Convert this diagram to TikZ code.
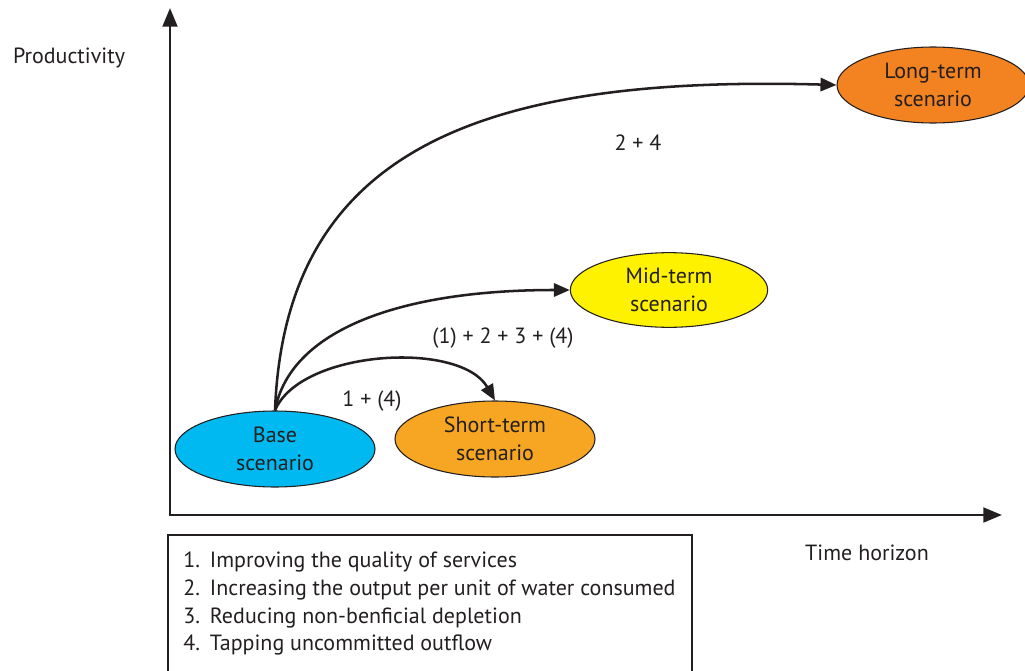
\documentclass[tikz,border=0pt]{standalone}
\usepackage{fontspec}
\setmainfont{PT Sans}
\usetikzlibrary{shapes.geometric,arrows.meta}
\definecolor{basecol}{RGB}{0,185,240}
\definecolor{shortcol}{RGB}{246,166,35}
\definecolor{midcol}{RGB}{255,242,0}
\definecolor{longcol}{RGB}{243,130,33}
\definecolor{ink}{RGB}{35,31,32}
\tikzset{
  scen/.style={ellipse, draw=ink, line width=0.8pt, inner sep=0pt,
    minimum width=150pt, minimum height=57pt, align=center,
    font=\fontsize{16.5}{21}\selectfont, text=ink},
  axis/.style={line width=2.2pt, draw=ink, -{Triangle[length=14pt,width=11pt]}},
  flow/.style={line width=1.9pt, draw=ink, -{Triangle[length=12pt,width=10pt]}},
  lbl/.style={font=\fontsize{16.5}{21}\selectfont, text=ink, inner sep=0pt},
  legline/.style={font=\fontsize{16.5}{21}\selectfont, text=ink, anchor=west, inner sep=0pt}
}
\newcommand{\legnum}[1]{\makebox[20pt][l]{#1}}
\begin{document}
\begin{tikzpicture}[x=0.75pt,y=-0.75pt]
\useasboundingbox (0,0) rectangle (1025,671);
\begin{scope}
\clip (0,0) rectangle (1025,671);

% axes
\coordinate (origin) at (170,515);
\coordinate (ytop) at (170,8);
\coordinate (xend) at (1002,515);
\draw[axis] (origin) -- (ytop);
\draw[axis] ([xshift=-1.1pt]origin) -- (xend);
\node[lbl] (ylab) at (69,58) {Productivity};
\node[lbl] (xlab) at (867,553) {Time horizon};

% scenarios
\node[scen, fill=basecol] (base) at (275,449) {Base\\scenario};
\node[scen, fill=shortcol] (short) at (495,439) {Short-term\\scenario};
\node[scen, fill=midcol, minimum width=148pt, minimum height=56pt] (mid) at (669,290) {Mid-term\\scenario};
\node[scen, fill=longcol, minimum width=144pt] (long) at (933,85) {Long-term\\scenario};

% pathways
\draw[flow] (base.north) .. controls (300,350) and (460,340) .. (short.north);
\draw[flow] (base.north) .. controls (290,330) and (400,290) .. (mid.west);
\draw[flow] (base.north) .. controls (285,150) and (480,75) .. (long.west);

\node[lbl] (l24) at (638,143) {2 + 4};
\node[lbl] (l1234) at (503,338) {(1) + 2 + 3 + (4)};
\node[lbl] (l14) at (372,401) {1 + (4)};

% legend
\draw[line width=1pt, draw=ink] (168,690) -- (168,535) -- (692,535) -- (692,690);
\node[legline] (m1) at (183,562) {\legnum{1.}Improving the quality of services};
\node[legline] (m2) at (183,590) {\legnum{2.}Increasing the output per unit of water consumed};
\node[legline] (m3) at (183,618) {\legnum{3.}Reducing non-benficial depletion};
\node[legline] (m4) at (183,645) {\legnum{4.}Tapping uncommitted outflow};
\end{scope}
\end{tikzpicture}
\end{document}
